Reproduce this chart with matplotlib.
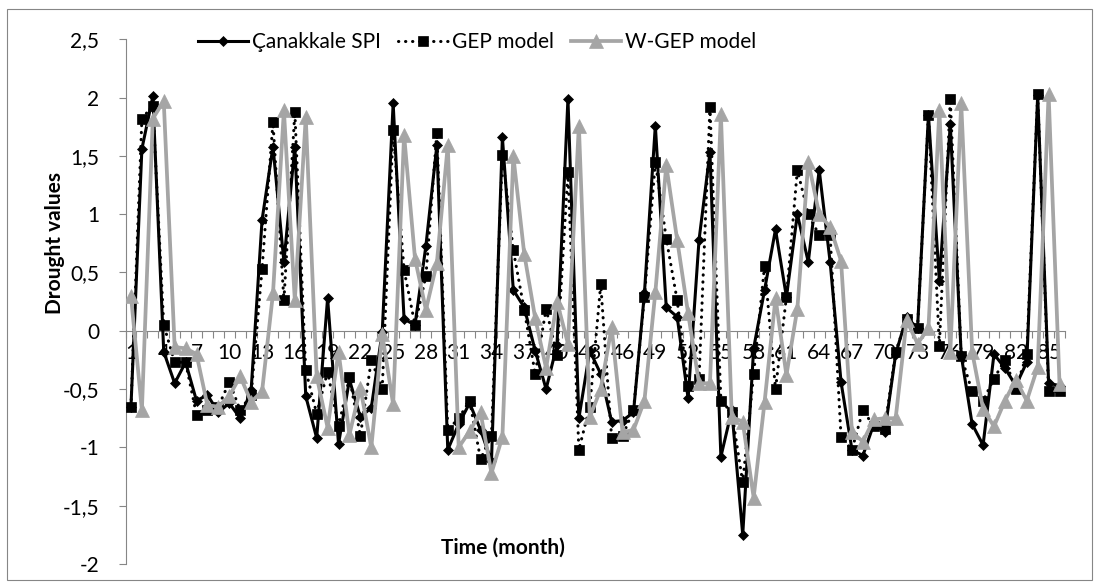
import numpy as np
import matplotlib.pyplot as plt
from matplotlib.patches import Rectangle

# months 1..86
months = list(range(1, 87))

spi = [-0.65, 1.56, 2.01, -0.18, -0.45, -0.27, -0.60, -0.55, -0.70, -0.62,
       -0.75, -0.51, 0.95, 1.58, 0.59, 1.58, -0.56, -0.92, 0.28, -0.97,
       -0.42, -0.74, -0.66, -0.01, 1.95, 0.10, 0.05, 0.73, 1.59, -1.02,
       -0.80, -0.62, -0.85, -1.12, 1.66, 0.35, 0.20, -0.17, -0.50, -0.12,
       1.99, -0.75, -0.17, -0.37, -0.78, -0.77, -0.70, 0.32, 1.76, 0.20,
       0.12, -0.58, 0.78, 1.53, -1.08, -0.68, -1.75, -0.15, 0.35, 0.87,
       0.29, 1.00, 0.59, 1.38, 0.59, -0.44, -1.02, -1.07, -0.80, -0.87,
       -0.20, 0.12, 0.02, 1.85, 0.43, 1.77, -0.21, -0.80, -0.98, -0.20,
       -0.32, -0.47, -0.27, 2.02, -0.45, -0.47]

gep = [-0.65, 1.82, 1.93, 0.05, -0.27, -0.27, -0.72, -0.68, -0.65, -0.44,
       -0.68, -0.55, 0.53, 1.79, 0.26, 1.88, -0.34, -0.71, -0.35, -0.82,
       -0.40, -0.90, -0.25, -0.50, 1.72, 0.52, 0.05, 0.47, 1.70, -0.85,
       -0.75, -0.60, -1.10, -0.90, 1.51, 0.69, 0.18, -0.37, 0.19, -0.21,
       1.36, -1.02, -0.65, 0.40, -0.92, -0.90, -0.68, 0.29, 1.45, 0.79,
       0.26, -0.47, -0.41, 1.92, -0.60, -0.70, -1.30, -0.37, 0.56, -0.50,
       0.29, 1.38, 1.00, 0.82, 0.82, -0.91, -1.02, -0.68, -0.82, -0.84,
       -0.18, 0.10, 0.02, 1.85, -0.13, 1.99, -0.22, -0.52, -0.60, -0.41,
       -0.25, -0.50, -0.20, 2.03, -0.52, -0.52]

wgep = [0.30, -0.68, 1.82, 1.97, -0.14, -0.15, -0.20, -0.64, -0.65, -0.56,
        -0.39, -0.61, -0.52, 0.32, 1.89, 0.26, 1.83, -0.39, -0.83, -0.18,
        -0.89, -0.49, -1.00, -0.03, -0.63, 1.68, 0.62, 0.18, 0.58, 1.59,
        -1.00, -0.86, -0.70, -1.22, -0.91, 1.50, 0.66, 0.11, -0.32, 0.25,
        -0.11, 1.76, -0.74, -0.50, 0.03, -0.87, -0.85, -0.60, 0.33, 1.42,
        0.78, 0.15, -0.45, -0.45, 1.86, -0.74, -0.78, -1.43, -0.61, 0.28,
        -0.38, 0.19, 1.45, 1.00, 0.89, 0.60, -0.87, -0.95, -0.76, -0.75,
        -0.75, 0.09, -0.11, 0.02, 1.89, -0.18, 1.95, -0.18, -0.67, -0.82,
        -0.60, -0.42, -0.60, -0.31, 2.03, -0.46]

y_ticks = [-2, -1.5, -1, -0.5, 0, 0.5, 1, 1.5, 2, 2.5]
y_labels = ['-2', '-1,5', '-1', '-0,5', '0', '0,5', '1', '1,5', '2', '2,5']

plt.rcParams['font.family'] = ['Lato', 'DejaVu Sans']
axis_grey = '#868686'
fs = 15

fig = plt.figure(figsize=(10.99, 5.88), dpi=100)
ax = fig.add_axes([125.5 / 1099, 1 - 564 / 588, (1065 - 125.5) / 1099, (564 - 39.3) / 588])

ax.plot(months, spi, color='black', lw=2.2, marker='D', ms=5, mew=0.5,
        label='Çanakkale SPI', zorder=3)
ax.plot(months, gep, color='black', lw=2.2, ls=(0, (0.1, 2.2)), dash_capstyle='round',
        marker='s', ms=7, mew=0.5, label='GEP model', zorder=4)
ax.plot(months, wgep, color='#a5a5a5', lw=2.7, marker='^', ms=9.5, mew=0.5,
        label='W-GEP model', zorder=5)

ax.set_xlim(0.5, 86.5)
ax.set_ylim(-2, 2.5)
for s in ['top', 'right']:
    ax.spines[s].set_visible(False)
ax.spines['bottom'].set_position(('data', 0))
for s in ['bottom', 'left']:
    ax.spines[s].set_color(axis_grey)
    ax.spines[s].set_linewidth(0.8)

ax.set_xticks(np.arange(0.5, 87, 1))
ax.set_xticklabels([])
ax.set_xticks(months[::3], minor=True)
ax.set_xticklabels([str(m) for m in months[::3]], minor=True)
ax.tick_params(axis='x', which='major', length=5, width=0.8, color=axis_grey, direction='out')
ax.tick_params(axis='x', which='minor', length=0, pad=9, labelsize=fs)

ax.set_yticks(y_ticks)
ax.set_yticklabels(y_labels)
ax.tick_params(axis='y', length=5, width=0.8, color=axis_grey, pad=14, labelsize=fs)

fig.text(503 / 1099, 1 - 548 / 588, 'Time (month)', fontsize=fs, fontweight='bold',
         ha='center', va='center')
fig.text(55 / 1099, 1 - 243 / 588, 'Drought values', fontsize=fs, fontweight='bold',
         ha='center', va='center', rotation=90)

ax.legend(loc='center', bbox_to_anchor=(477 / 1099, 1 - 42 / 588),
          bbox_transform=fig.transFigure, ncol=3, frameon=False, fontsize=fs,
          handlelength=2.4, handletextpad=0.2, columnspacing=0.8)

fig.patches.append(Rectangle((7 / 1099, 1 - 580 / 588), 1085 / 1099, 571 / 588,
                             transform=fig.transFigure, fill=False,
                             ec=axis_grey, lw=0.8))

fig.savefig('out.png', dpi=100)
